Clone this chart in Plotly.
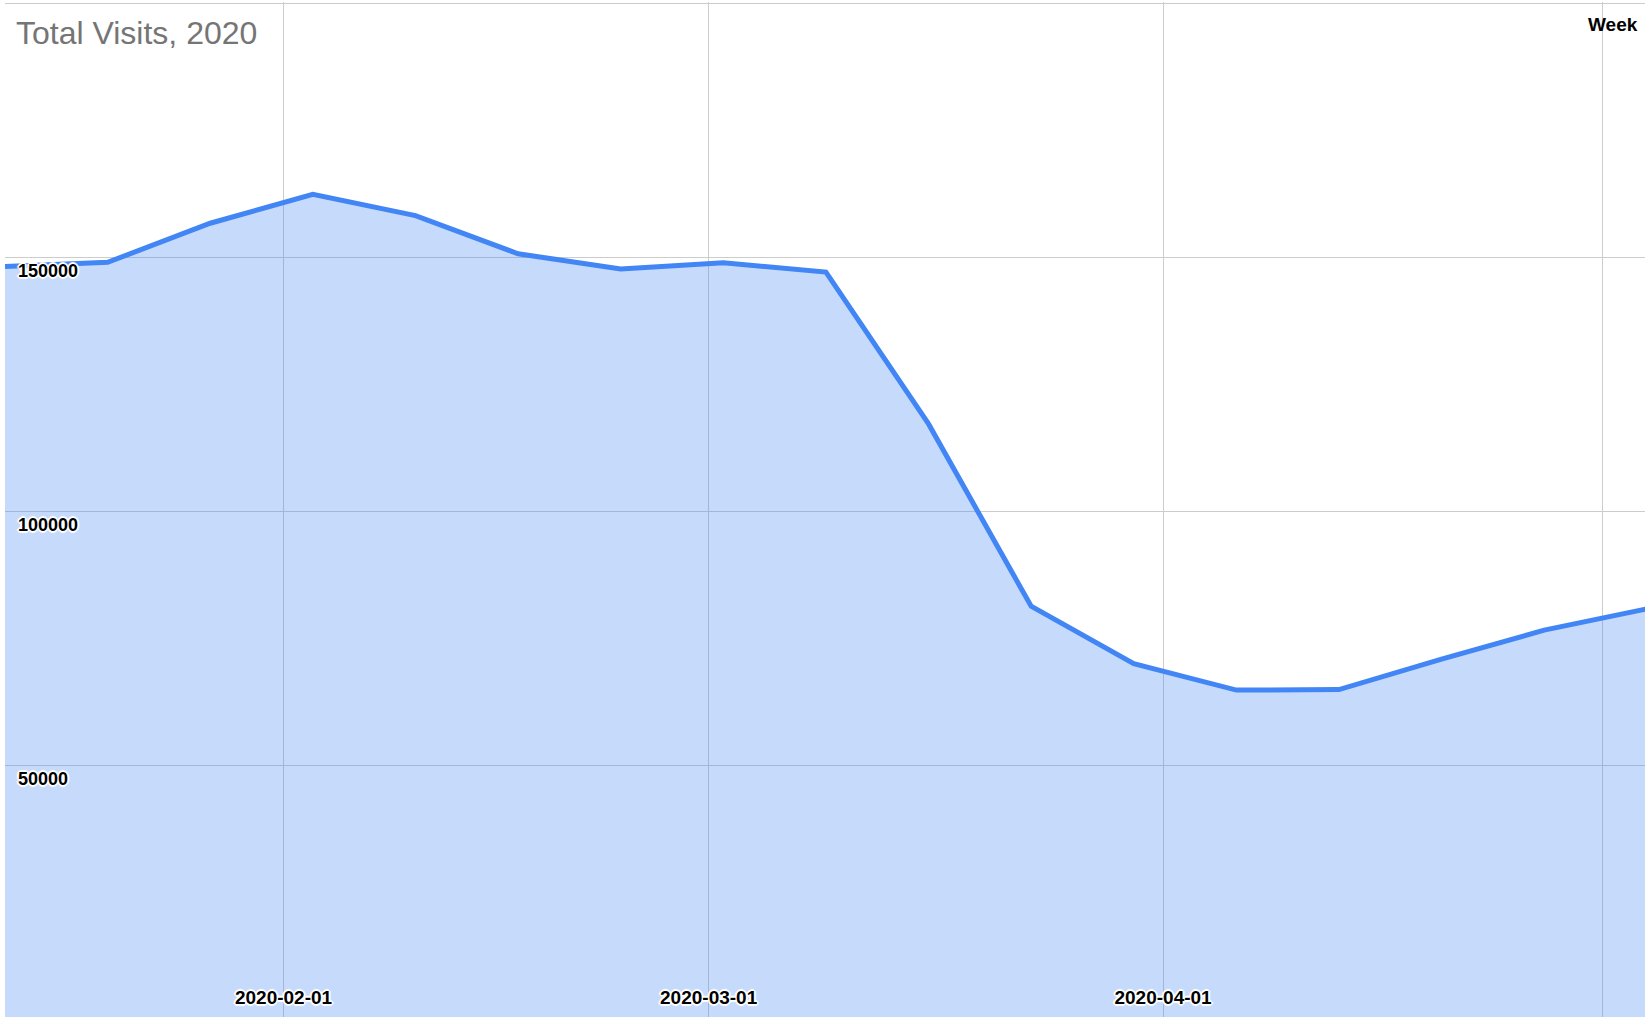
import plotly.graph_objects as go

weeks = ["2020-01-13", "2020-01-20", "2020-01-27", "2020-02-03", "2020-02-10",
         "2020-02-17", "2020-02-24", "2020-03-02", "2020-03-09", "2020-03-16",
         "2020-03-23", "2020-03-30", "2020-04-06", "2020-04-13", "2020-04-20",
         "2020-04-27", "2020-05-04"]
visits = [148300, 149100, 156800, 162500, 158300, 150800, 147800, 149000, 147200,
          117300, 81400, 70100, 64900, 65000, 71000, 76700, 80900]

x_tickvals = ["2020-02-01", "2020-03-01", "2020-04-01", "2020-05-01"]
x_ticktext = ["2020-02-01", "2020-03-01", "2020-04-01", ""]
y_tickvals = [0, 50000, 100000, 150000, 200000]
y_ticktext = ["", "50000", "100000", "150000", ""]

title_text = "Total Visits, 2020"
x_title = "Week"

FONT = "Liberation Sans, Arial, sans-serif"
HALO = ("-1px -1px 1px #fff, 1px -1px 1px #fff, -1px 1px 1px #fff, 1px 1px 1px #fff, "
        "0 -2px 1px #fff, 0 2px 1px #fff, -2px 0 1px #fff, 2px 0 1px #fff")

fig = go.Figure()
fig.add_trace(go.Scatter(
    x=weeks, y=visits, mode="lines",
    line=dict(color="#4285F4", width=5),
    fill="tozeroy", fillcolor="rgba(66,133,244,0.3)",
    hoverinfo="x+y",
))

fig.update_layout(
    width=1645, height=1017,
    margin=dict(l=5, r=0, t=2, b=0),
    paper_bgcolor="white", plot_bgcolor="white",
    showlegend=False,
    title=dict(text=title_text, font=dict(family=FONT, size=32, color="#757575"),
               x=16 / 1645, xref="container", xanchor="left",
               y=1 - 33 / 1017, yref="container", yanchor="middle"),
    xaxis=dict(
        type="date", range=["2020-01-13", "2020-05-03 21:00"],
        tickvals=x_tickvals, ticktext=x_ticktext,
        showgrid=True, gridcolor="#cccccc", gridwidth=1,
        zeroline=False, showline=False, ticks="",
        ticklabelposition="inside",
        tickfont=dict(family=FONT, size=19, color="#000000", weight="bold", shadow=HALO),
        ticklabelstandoff=6,
    ),
    yaxis=dict(
        range=[550, 200350],
        tickvals=y_tickvals, ticktext=y_ticktext,
        showgrid=True, gridcolor="#cccccc", gridwidth=1,
        zeroline=False, showline=False, ticks="",
        ticklabelposition="inside bottom",
        tickfont=dict(family=FONT, size=18, color="#000000", weight="bold", shadow=HALO),
        ticklabelstandoff=10,
    ),
    annotations=[dict(
        text=x_title, xref="paper", yref="paper", x=1, y=1,
        xanchor="right", yanchor="middle", xshift=-5, yshift=-22,
        showarrow=False,
        font=dict(family=FONT, size=19, color="#000000", weight="bold"),
    )],
)

fig.write_html("out.html", config={"displayModeBar": False},
               post_script="document.body.style.margin='0';document.body.style.overflow='hidden';")
